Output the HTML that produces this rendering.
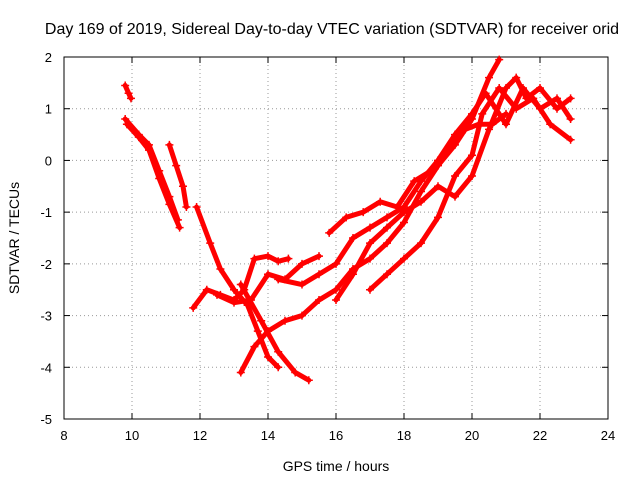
<!DOCTYPE html>
<html><head><meta charset="utf-8"><style>
body{margin:0;background:#fff;}
svg{display:block;font-family:"Liberation Sans",sans-serif;}
</style></head><body>
<svg id="chart" width="640" height="480" viewBox="0 0 640 480">
<rect width="640" height="480" fill="#fff"/>
<text x="332" y="34" font-size="16" text-anchor="middle">Day 169 of 2019, Sidereal Day-to-day VTEC variation (SDTVAR) for receiver orid</text>
<g id="grid"></g>
<g id="axes"></g>
<g id="series"></g>
<text x="336" y="471" font-size="14" text-anchor="middle">GPS time / hours</text>
<text transform="translate(19,238) rotate(-90)" font-size="14" text-anchor="middle">SDTVAR / TECUs</text>
</svg>
<script>
const xTicks=[8,10,12,14,16,18,20,22,24];
const yTicks=[2,1,0,-1,-2,-3,-4,-5];
const trackA=[[9.8,1.45],[9.9,1.3],[9.97,1.2]];
const trackB=[[9.8,0.8],[10.2,0.5],[10.5,0.3],[10.8,-0.2],[11.1,-0.7],[11.35,-1.15]];
const trackB2=[[9.85,0.7],[10.2,0.45],[10.5,0.2],[10.8,-0.35],[11.1,-0.85],[11.4,-1.3]];
const trackB3=[[11.1,0.3],[11.3,-0.1],[11.5,-0.5],[11.6,-0.9]];
const trackC=[[11.9,-0.9],[12.3,-1.6],[12.6,-2.1],[13.0,-2.5],[13.4,-2.8],[13.7,-3.3],[14.0,-3.8],[14.3,-4.0]];
const trackC2=[[13.2,-2.4],[13.8,-3.1],[14.3,-3.7],[14.8,-4.1],[15.2,-4.25]];
const trackD=[[11.8,-2.85],[12.2,-2.5],[12.6,-2.6],[13.0,-2.7],[13.3,-2.5],[13.6,-1.9],[14.0,-1.85],[14.3,-1.95],[14.6,-1.9]];
const trackE=[[13.2,-4.1],[13.6,-3.6],[14.0,-3.3],[14.5,-3.1],[15.0,-3.0],[15.5,-2.7],[16.0,-2.5],[16.5,-2.1],[17,-1.9],[17.5,-1.6],[18,-1.2],[18.5,-0.6],[19,-0.1],[19.5,0.3],[20,0.8],[20.5,1.6],[20.8,1.95]];
const trackF=[[12.5,-2.6],[13,-2.75],[13.5,-2.7],[14,-2.2],[14.5,-2.3],[15,-2.0],[15.5,-1.85]];
const trackG=[[15.8,-1.4],[16.3,-1.1],[16.8,-1.0],[17.3,-0.8],[17.8,-0.9],[18.3,-0.4],[18.8,-0.2],[19.3,0.2],[19.8,0.6],[20.2,0.7],[20.6,0.7],[21,0.9]];
const trackH=[[16,-2.7],[16.5,-2.2],[17,-1.6],[17.5,-1.3],[18,-1.0],[18.5,-0.8],[19,-0.5],[19.5,-0.7],[20,-0.3],[20.5,0.6],[21,1.4],[21.3,1.6],[21.6,1.2],[22,1.4],[22.5,1.0],[22.9,1.2]];
const trackI=[[17,-2.5],[17.5,-2.2],[18,-1.9],[18.5,-1.6],[19,-1.1],[19.5,-0.3],[20,0.1],[20.3,0.9],[20.8,1.4],[21.3,1.0],[21.8,1.2],[22.3,0.7],[22.9,0.4]];
const trackJ=[[14.3,-2.3],[15,-2.4],[15.5,-2.2],[16,-2.0],[16.5,-1.5],[17,-1.3],[17.5,-1.1],[18,-0.9],[18.5,-0.4],[19,0],[19.5,0.5],[20,0.9],[20.4,1.3],[21,0.7],[21.5,1.4],[22,1.0],[22.5,1.2],[22.9,0.8]];
const tracks=[trackA,trackB,trackB2,trackB3,trackC,trackC2,trackD,trackE,trackF,trackG,trackH,trackI,trackJ];

const NS="http://www.w3.org/2000/svg";
const L=64,R=608,T=57,B=419,xmin=8,xmax=24,ymin=-5,ymax=2;
const sx=v=>L+(v-xmin)/(xmax-xmin)*(R-L);
const sy=v=>B-(v-ymin)/(ymax-ymin)*(B-T);
function mk(tag,attrs,parent){const e=document.createElementNS(NS,tag);for(const k in attrs)e.setAttribute(k,attrs[k]);parent.appendChild(e);return e;}
const grid=document.getElementById('grid'),axes=document.getElementById('axes'),ser=document.getElementById('series');
xTicks.forEach(t=>{
  const x=sx(t);
  if(t>xmin&&t<xmax){const g=mk('line',{x1:x,x2:x,y1:T,y2:B,stroke:'#999','stroke-dasharray':'1,3','stroke-width':1},grid);
  
  }
  mk('line',{x1:x,x2:x,y1:B,y2:B-6,stroke:'#000'},axes);
  mk('line',{x1:x,x2:x,y1:T,y2:T+6,stroke:'#000'},axes);
  const tx=mk('text',{x:x,y:B+21,'font-size':13,'text-anchor':'middle'},axes);
  tx.textContent=t;
  
  
});
yTicks.forEach(t=>{
  const y=sy(t);
  if(t>ymin&&t<ymax){const g=mk('line',{x1:L,x2:R,y1:y,y2:y,stroke:'#999','stroke-dasharray':'1,3','stroke-width':1},grid);
  
  }
  mk('line',{x1:L,x2:L+6,y1:y,y2:y,stroke:'#000'},axes);
  mk('line',{x1:R,x2:R-6,y1:y,y2:y,stroke:'#000'},axes);
  const tx=mk('text',{x:L-12,y:y+5,'font-size':13,'text-anchor':'end'},axes);
  tx.textContent=t;
  
  
});
const frame=mk('rect',{x:L,y:T,width:R-L,height:B-T,fill:'none',stroke:'#000'},axes);


tracks.forEach((tr,i)=>{
  const pl=mk('polyline',{points:tr.map(p=>sx(p[0])+','+sy(p[1])).join(' '),fill:'none',stroke:'#f00','stroke-width':5,'stroke-linejoin':'round','stroke-linecap':'round'},ser);
  
  
  tr.forEach(p=>{
    const x=sx(p[0]),y=sy(p[1]);
    const m=mk('path',{d:`M${x-4},${y}H${x+4}M${x},${y-4}V${y+4}`,stroke:'#f00','stroke-width':1.5},ser);
    
    
  });
});
</script>
</body></html>
